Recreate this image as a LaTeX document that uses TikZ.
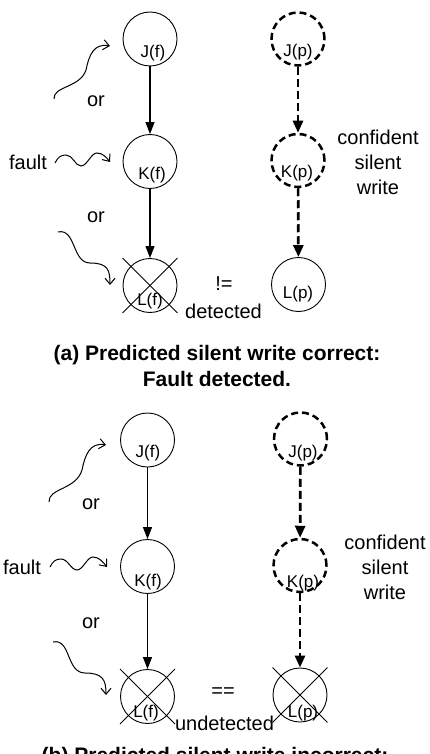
\documentclass[tikz,border=0pt]{standalone}
\usepackage{fontspec}
\setmainfont{Liberation Sans}
\usetikzlibrary{arrows.meta}
\begin{document}
\begin{tikzpicture}[x=1pt,y=-1pt,
  solidnode/.style={circle,draw,line width=0.9pt,minimum size=54pt,inner sep=0pt},
  dashnode/.style={circle,draw,line width=2.5pt,dash pattern=on 7pt off 4pt,minimum size=53pt,inner sep=0pt},
  lbl/.style={inner sep=0pt,font=\fontsize{17}{20}\selectfont},
  txt/.style={inner sep=0pt,font=\fontsize{20}{25}\selectfont,align=center},
  captext/.style={inner sep=0pt,font=\bfseries\fontsize{21}{26}\selectfont,align=center},
  solidarrow/.style={line width=1.2pt,-{Triangle[length=12pt,width=9pt]}},
  dasharrow/.style={line width=2.7pt,dash pattern=on 8pt off 4pt,-{Triangle[length=12pt,width=10pt]}},
  squiggle/.style={line width=1pt,-{Straight Barb[length=6pt,width=10pt]}},
  crossline/.style={line width=0.9pt}
]
\clip (0,0) rectangle (430,754);
\fill[white] (0,0) rectangle (430,754);

% ---------- (a) ----------
\node[solidnode] (Jfa) at (150,39) {};
\node[lbl] (Jfal) at (153,53) {J(f)};
\node[solidnode] (Kfa) at (150,161.5) {};
\node[lbl] (Kfal) at (152,175) {K(f)};
\node[solidnode] (Lfa) at (150,285.5) {};
\node[lbl] (Lfal) at (150,301) {L(f)};
\draw[crossline] (Lfa.west |- Lfa.north) -- (Lfa.east |- Lfa.south);
\draw[crossline] (Lfa.east |- Lfa.north) -- (Lfa.west |- Lfa.south);
\draw[solidarrow] (Jfa) -- (Kfa);
\draw[solidarrow] (Kfa) -- (Lfa);

\node[dashnode] (Jpa) at (298,39) {};
\node[lbl] (Jpal) at (298,52) {J(p)};
\node[dashnode] (Kpa) at (298,160.5) {};
\node[lbl] (Kpal) at (297,173) {K(p)};
\node[solidnode] (Lpa) at (298.5,284.5) {};
\node[lbl] (Lpal) at (298,294) {L(p)};
\draw[dasharrow] (Jpa) -- (Kpa);
\draw[dasharrow] (Kpa) -- (Lpa);

\node[txt] (or1a) at (96,101) {or};
\node[txt] (faulta) at (28,162) {fault};
\node[txt] (or2a) at (96,217) {or};
\node[txt] (neq) at (224,284) {!=};
\node[txt] (det) at (223.5,311) {detected};
\node[txt] (confa) at (378,162) {confident\\silent\\write};

\draw[squiggle] (54,99) .. controls (53,86) and (80,88) .. (86,70) .. controls (89,55) and (94,43) .. (110,46);
\draw[squiggle] (55,163) .. controls (58,157) and (61,155) .. (66,155) .. controls (73,155) and (75,166) .. (81,166) .. controls (87,166) and (91,153) .. (97,153) .. controls (103,153) and (107,158) .. (110,162);
\draw[squiggle] (58,232) .. controls (76,228) and (72,263) .. (90,263) .. controls (108,263) and (110,270) .. (110,285);

\node[captext] (capa) at (217,366) {(a) Predicted silent write correct:\\Fault detected.};

% ---------- (b) ----------
\node[solidnode] (Jfb) at (147.5,440) {};
\node[lbl] (Jfbl) at (148,453) {J(f)};
\node[solidnode] (Kfb) at (147.5,566.5) {};
\node[lbl] (Kfbl) at (148,582) {K(f)};
\node[solidnode] (Lfb) at (147.5,696.5) {};
\node[lbl] (Lfbl) at (146,713) {L(f)};
\draw[crossline] (Lfb.west |- Lfb.north) -- (Lfb.east |- Lfb.south);
\draw[crossline] (Lfb.east |- Lfb.north) -- (Lfb.west |- Lfb.south);
\draw[solidarrow] (Jfb) -- (Kfb);
\draw[solidarrow] (Kfb) -- (Lfb);

\node[dashnode] (Jpb) at (300.5,439) {};
\node[lbl] (Jpbl) at (303,453) {J(p)};
\node[dashnode] (Kpb) at (300,565.5) {};
\node[lbl] (Kpbl) at (303,583) {K(p)};
\node[solidnode] (Lpb) at (300,695) {};
\node[lbl] (Lpbl) at (303,713) {L(p)};
\draw[crossline] (Lpb.west |- Lpb.north) -- (Lpb.east |- Lpb.south);
\draw[crossline] (Lpb.east |- Lpb.north) -- (Lpb.west |- Lpb.south);
\draw[dasharrow] (Jpb) -- (Kpb);
\draw[dasharrow] (Kpb) -- (Lpb);

\node[txt] (or1b) at (91,504) {or};
\node[txt] (faultb) at (22,567) {fault};
\node[txt] (or2b) at (91,623) {or};
\node[txt] (eq) at (223,693) {==};
\node[txt] (undet) at (224.5,723) {undetected};
\node[txt] (confb) at (385,567) {confident\\silent\\write};

\draw[squiggle] (49,502) .. controls (48,488) and (76,490) .. (82,470) .. controls (85,455) and (90,442) .. (106,445);
\draw[squiggle] (50,567) .. controls (53,561) and (56,559) .. (61,559) .. controls (68,559) and (71,570) .. (77,570) .. controls (83,570) and (87,557) .. (93,557) .. controls (99,557) and (103,562) .. (107,567);
\draw[squiggle] (53,642) .. controls (71,638) and (66,673) .. (85,673) .. controls (103,673) and (106,680) .. (106,695);

\node[captext] (capb) at (215,757.5) {(b) Predicted silent write incorrect:};
\end{tikzpicture}
\end{document}
